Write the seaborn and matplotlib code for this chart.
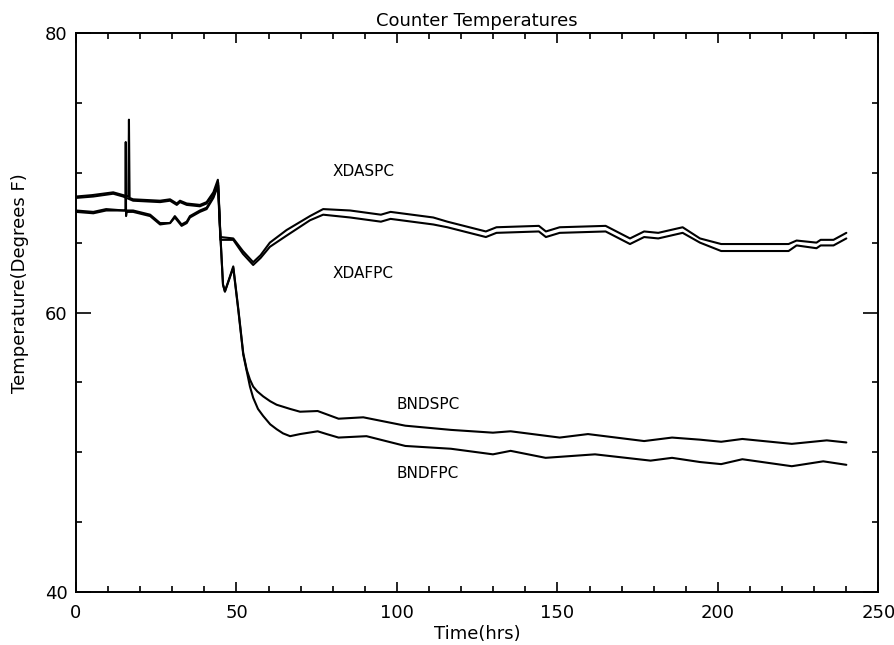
import matplotlib
matplotlib.use('Agg')

import numpy as np
import pandas as pd
import matplotlib.pyplot as plt
import seaborn as sns
from matplotlib.ticker import MultipleLocator

# values (hours, degrees F)
time_xdaspc = [0, 5, 11.6, 14.7, 16.3, 16.5, 16.7, 17.8, 26.2, 29.3, 31.4, 32.4, 34.5, 38.6, 40.7, 42.8, 44.2,
               45.0, 49.0, 52.0, 55.2, 57.5, 60.4, 65.6, 72.9, 77.0, 85.4, 95.0, 98.0, 111.3, 115.7, 127.7, 131.0,
               144.2, 146.4, 150.7, 165.0, 172.6, 177.0, 181.4, 189.0, 194.4, 201.0, 207.8, 222.0, 224.5,
               230.7, 232.0, 236.0, 240.0]
temp_xdaspc = [68.3, 68.4, 68.6, 68.4, 68.3, 73.8, 68.2, 68.1, 68.0, 68.1, 67.8, 68.0, 67.8, 67.7, 67.9, 68.6, 69.5,
               65.4, 65.3, 64.4, 63.6, 64.1, 65.0, 65.9, 66.9, 67.4, 67.3, 67.0, 67.2, 66.8, 66.5, 65.8, 66.1,
               66.2, 65.8, 66.1, 66.2, 65.3, 65.8, 65.7, 66.1, 65.3, 64.9, 64.9, 64.9, 65.15,
               65.0, 65.2, 65.2, 65.7]

time_xdafpc = [0, 5.4, 9.4, 15.0, 17.8, 23.1, 26.2, 29.3, 30.8, 32.9, 34.5, 35.5, 38.6, 40.7, 42.8, 44.2,
               45.0, 49.0, 52.0, 55.2, 57.5, 60.4, 65.6, 72.9, 77.0, 85.4, 95.0, 98.0, 111.3, 115.7, 127.7, 131.0,
               144.2, 146.4, 150.7, 165.0, 172.6, 177.0, 181.4, 189.0, 194.4, 201.0, 207.8, 222.0, 224.5,
               230.7, 232.0, 236.0, 240.0]
temp_xdafpc = [67.3, 67.2, 67.4, 67.3, 67.3, 67.0, 66.4, 66.4, 66.9, 66.3, 66.5, 66.9, 67.3, 67.5, 68.3, 69.2,
               65.2, 65.2, 64.2, 63.4, 63.9, 64.7, 65.5, 66.6, 67.0, 66.8, 66.5, 66.7, 66.3, 66.1, 65.4, 65.7,
               65.8, 65.4, 65.7, 65.8, 64.9, 65.4, 65.3, 65.7, 65.0, 64.4, 64.4, 64.4, 64.8,
               64.6, 64.8, 64.8, 65.3]

time_bndspc = [0, 5.4, 11.6, 14.7, 17.8, 26.2, 29.3, 31.4, 32.4, 34.5, 38.6, 40.7, 42.8, 44.3,
               45.0, 45.8, 46.4, 49.0, 50.6, 52.1, 53.2, 54.2, 55.2, 56.5, 58.3, 60.5, 62.5, 66.7, 69.8, 75.3,
               81.8, 89.5, 102.6, 116.8, 129.9, 135.4, 150.7, 159.5, 177.0, 185.7, 194.4, 201.0, 207.6,
               223.0, 233.9, 240.0]
temp_bndspc = [68.2, 68.3, 68.5, 68.3, 68.0, 67.9, 68.0, 67.7, 67.9, 67.7, 67.6, 67.8, 68.5, 69.3,
               65.5, 62.0, 61.5, 63.3, 60.2, 57.1, 55.9, 55.2, 54.7, 54.35, 54.0, 53.65, 53.4, 53.1, 52.9, 52.95,
               52.4, 52.5, 51.9, 51.6, 51.4, 51.5, 51.05, 51.3, 50.8, 51.05, 50.9, 50.75, 50.95,
               50.6, 50.85, 50.7]

time_bndfpc = [0, 5.4, 9.4, 15.0, 15.4, 15.5, 15.6, 15.8, 17.8, 23.1, 26.2, 29.3, 30.8, 32.9, 34.5, 35.5,
               38.6, 40.7, 42.8, 44.3, 45.0, 45.8, 46.4, 49.0, 50.6, 52.1, 53.2, 54.2, 55.2, 56.7, 58.3, 60.5,
               62.5, 64.5, 66.7, 69.8, 75.3, 78.1, 81.8, 90.5, 102.6, 116.8, 129.9, 135.4, 146.3, 161.7,
               179.0, 185.7, 194.4, 201.0, 207.6, 223.0, 232.8, 240.0]
temp_bndfpc = [67.2, 67.1, 67.3, 67.3, 67.3, 72.2, 66.9, 67.2, 67.2, 66.9, 66.3, 66.4, 66.8, 66.2, 66.4, 66.8,
               67.2, 67.4, 68.2, 69.1, 65.4, 62.0, 61.5, 63.2, 60.1, 57.0, 55.8, 54.7, 53.9, 53.1, 52.6, 52.0,
               51.65, 51.35, 51.15, 51.3, 51.5, 51.3, 51.05, 51.15, 50.45, 50.25, 49.85, 50.1, 49.6, 49.85,
               49.4, 49.6, 49.3, 49.15, 49.5, 49.0, 49.35, 49.1]

series_names = ['XDASPC', 'XDAFPC', 'BNDSPC', 'BNDFPC']
label_pos = {'XDASPC': (80, 70.1), 'XDAFPC': (80, 62.8), 'BNDSPC': (100, 53.4), 'BNDFPC': (100, 48.5)}

frames = []
for name, t, v in [('XDASPC', time_xdaspc, temp_xdaspc), ('XDAFPC', time_xdafpc, temp_xdafpc),
                   ('BNDSPC', time_bndspc, temp_bndspc), ('BNDFPC', time_bndfpc, temp_bndfpc)]:
    frames.append(pd.DataFrame({'time': t, 'temp': v, 'counter': name}))
df = pd.concat(frames, ignore_index=True)

sns.set_style('white')
plt.rcParams['font.family'] = ['DejaVu Sans']
plt.rcParams['text.color'] = 'black'
plt.rcParams['axes.labelcolor'] = 'black'
plt.rcParams['xtick.color'] = 'black'
plt.rcParams['ytick.color'] = 'black'

fig = plt.figure(figsize=(8.95, 6.45), dpi=100)
ax = fig.add_axes([0.0849, 0.0822, 0.8966, 0.8666])

for name in series_names:
    sns.lineplot(data=df[df['counter'] == name], x='time', y='temp', color='black', linewidth=1.5,
                 estimator=None, sort=False, ax=ax, legend=False)

for name in series_names:
    ax.text(label_pos[name][0], label_pos[name][1], name, fontsize=11, va='center', ha='left', color='black')

ax.set_xlim(0, 250)
ax.set_ylim(40, 80)
ax.xaxis.set_major_locator(MultipleLocator(50))
ax.xaxis.set_minor_locator(MultipleLocator(10))
ax.yaxis.set_major_locator(MultipleLocator(20))
ax.yaxis.set_minor_locator(MultipleLocator(5))
ax.tick_params(axis='both', which='both', direction='in', top=True, right=True, bottom=True, left=True,
               color='black', labelcolor='black', width=1.2, labelsize=13)
ax.tick_params(axis='x', which='major', length=7, pad=9)
ax.tick_params(axis='x', which='minor', length=4)
ax.tick_params(axis='y', which='major', length=11, pad=6)
ax.tick_params(axis='y', which='minor', length=4)
for s in ax.spines.values():
    s.set_color('black')
    s.set_linewidth(1.4)

ax.set_title('Counter Temperatures', fontsize=13, pad=5, color='black')
ax.set_xlabel('Time(hrs)', fontsize=13, labelpad=2)
ax.set_ylabel('Temperature(Degrees F)', fontsize=13)
ax.yaxis.set_label_coords(-0.058, 0.553)

plt.savefig('out.png', dpi=100)
